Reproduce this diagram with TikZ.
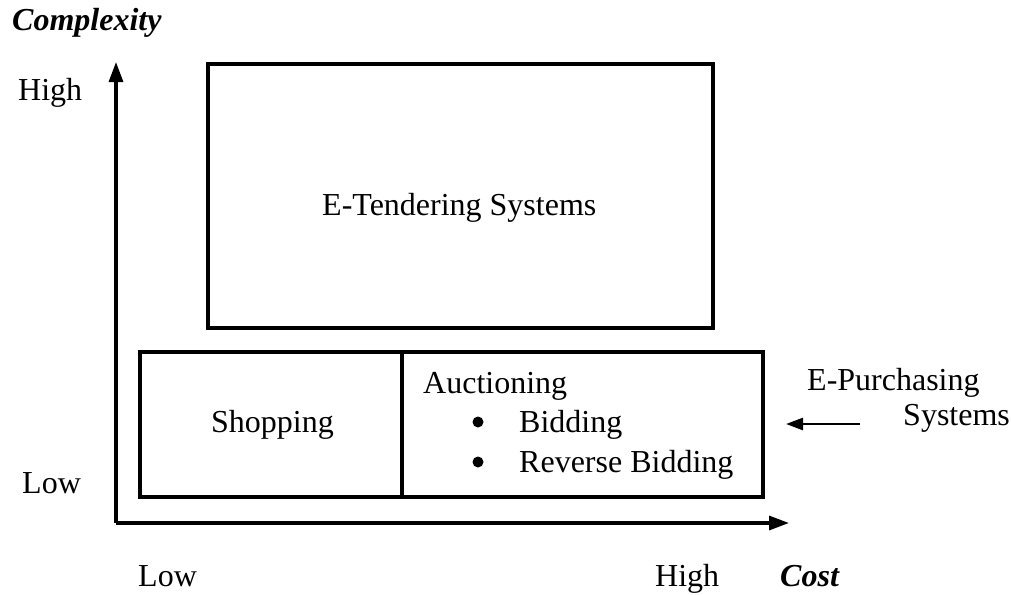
\documentclass[tikz,border=0pt]{standalone}
\usepackage{fontspec}
\setmainfont{Liberation Serif}
\usetikzlibrary{arrows.meta}
\tikzset{
  box/.style={draw, line width=3.2pt, inner sep=0pt},
  lbl/.style={anchor=base west, inner sep=0pt, font=\fontsize{32}{38}\selectfont},
  ax/.style={line width=3.2pt, -{Triangle[length=20pt,width=14pt]}},
  bul/.style={circle, fill, inner sep=0pt, minimum size=11pt},
}
\begin{document}
\begin{tikzpicture}[x=1pt,y=-1pt]
\useasboundingbox (0,0) rectangle (1011,594);
% boxes
\node[box, minimum width=505pt, minimum height=264pt] (tender) at (460.5,196) {};
\node[box, minimum width=262pt, minimum height=145pt] (shop) at (271,424.5) {};
\node[box, minimum width=361pt, minimum height=145pt] (auct) at (582.5,424.5) {};
% axes
\coordinate (origin) at (116,523);
\coordinate (ytip) at (116,62);
\coordinate (xtip) at (789,523);
\draw[ax] (origin) -- (ytip);
\draw[ax] (origin) -- (xtip);
% texts
\node[lbl, font=\fontsize{32}{38}\selectfont\bfseries\itshape] (cx) at (12,31) {Complexity};
\node[lbl] (yhigh) at (18,100) {High};
\node[lbl] (ylow) at (22,493) {Low};
\node[lbl] (xlow) at (138,586) {Low};
\node[lbl] (xhigh) at (655,586) {High};
\node[lbl, font=\fontsize{32}{38}\selectfont\bfseries\itshape] (cost) at (780,586) {Cost};
\node[lbl] (tt) at (322,215) {E-Tendering Systems};
\node[lbl] (st) at (211,432) {Shopping};
\node[lbl] (at) at (423,393) {Auctioning};
\node[bul] (b1) at (478,422) {};
\node[lbl] (bid) at (519,432) {Bidding};
\node[bul] (b2) at (478,462) {};
\node[lbl] (rbid) at (519,472) {Reverse Bidding};
\node[lbl] (ep) at (807,390) {E-Purchasing};
\node[lbl] (sys) at (903,425) {Systems};
\coordinate (astart) at (860,424);
\coordinate (aend) at (786,424);
\draw[line width=2.6pt, -{Triangle[length=17pt,width=12pt]}] (astart) -- (aend);
\end{tikzpicture}
\end{document}
